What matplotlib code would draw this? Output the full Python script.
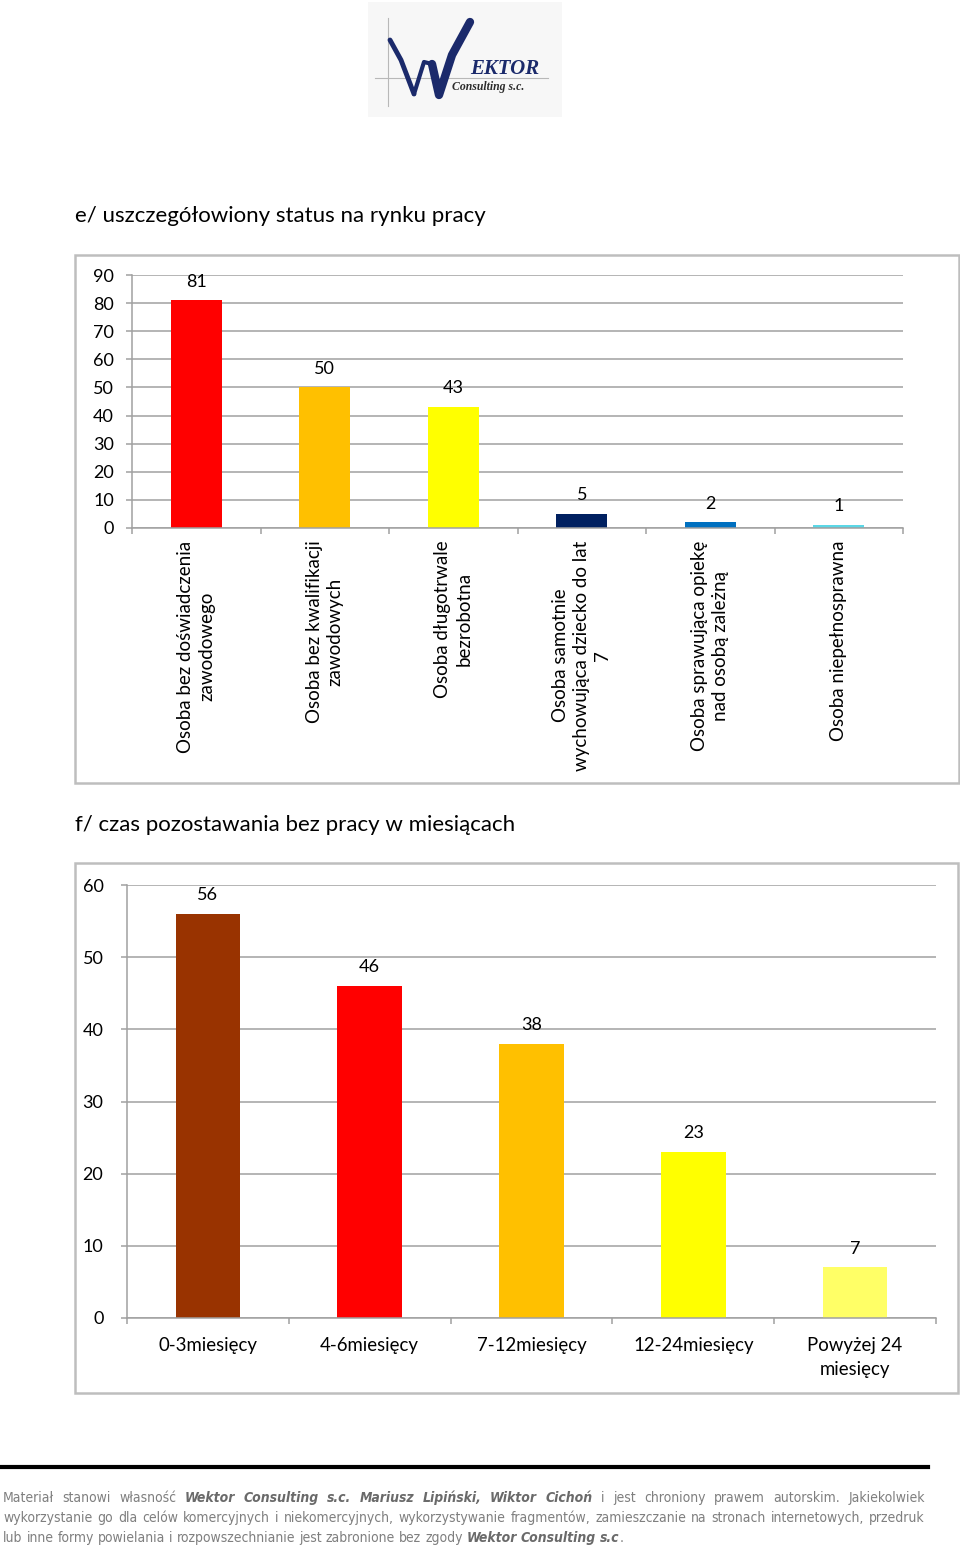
import matplotlib
matplotlib.use("Agg")
import matplotlib.pyplot as plt
from matplotlib.patches import Rectangle
from matplotlib.lines import Line2D

# ---------------- data ----------------
cats1 = ["Osoba bez doświadczenia\nzawodowego",
         "Osoba bez kwalifikacji\nzawodowych",
         "Osoba długotrwale\nbezrobotna",
         "Osoba samotnie\nwychowująca dziecko do lat\n7",
         "Osoba sprawująca opiekę\nnad osobą zależną",
         "Osoba niepełnosprawna"]
vals1 = [81, 50, 43, 5, 2, 1]
colors1 = ["#FF0000", "#FFC000", "#FFFF00", "#002060", "#0070C0", "#5BD7E6"]
yticks1 = [0, 10, 20, 30, 40, 50, 60, 70, 80, 90]

cats2 = ["0-3miesięcy", "4-6miesięcy", "7-12miesięcy", "12-24miesięcy",
         "Powyżej 24\nmiesięcy"]
vals2 = [56, 46, 38, 23, 7]
colors2 = ["#993300", "#FF0000", "#FFC000", "#FFFF00", "#FFFF66"]
yticks2 = [0, 10, 20, 30, 40, 50, 60]

title1 = "e/ uszczegółowiony status na rynku pracy"
title2 = "f/ czas pozostawania bez pracy w miesiącach"

FONT = ["Lato", "DejaVu Sans"]
plt.rcParams["font.family"] = FONT

W, H = 960, 1549
fig = plt.figure(figsize=(W / 100, H / 100), dpi=100)


def fx(px):
    return px / W


def fy(py):
    return 1 - py / H


def ax_rect(x0, y0, x1, y1):
    return [fx(x0), fy(y1), fx(x1) - fx(x0), fy(y0) - fy(y1)]


GRID = "#A0A0A0"
FRAME = "#BEBEBE"


def frame(x0, y0, x1, y1):
    fig.patches.append(Rectangle((fx(x0), fy(y1)), fx(x1) - fx(x0), fy(y0) - fy(y1),
                                 transform=fig.transFigure, fill=False,
                                 edgecolor=FRAME, linewidth=1.8))


def style_axes(ax, n, yt, ymax, fs_tick, pad_y):
    ax.set_xlim(0, n)
    ax.set_ylim(0, ymax)
    ax.set_yticks(yt)
    ax.yaxis.grid(True, color=GRID, linewidth=1.1)
    ax.set_axisbelow(True)
    for s in ["top", "right"]:
        ax.spines[s].set_visible(False)
    for s in ["left", "bottom"]:
        ax.spines[s].set_color(GRID)
        ax.spines[s].set_linewidth(1.1)
    ax.tick_params(axis="y", length=4, color=GRID, width=1.1, labelsize=fs_tick, pad=pad_y)
    ax.set_xticks([i + 0.5 for i in range(n)])
    ax.set_xticks(list(range(n + 1)), minor=True)
    ax.tick_params(axis="x", which="minor", length=4, color=GRID, width=1.1)
    ax.tick_params(axis="x", which="major", length=0)


# ---------------- chart 1 ----------------
frame(75, 255, 959, 783)
fig.text(fx(75), fy(216), title1, fontsize=16, va="center", ha="left")
ax1 = fig.add_axes(ax_rect(132, 275, 903, 528))
x1 = [i + 0.5 for i in range(len(vals1))]
ax1.bar(x1, vals1, width=0.4, color=colors1)
style_axes(ax1, len(vals1), yticks1, 90, 13, 9)
ax1.set_xticklabels(cats1, rotation=90, fontsize=13.5, va="top", ha="center",
                    multialignment="center", linespacing=1.3)
ax1.tick_params(axis="x", which="major", pad=9)
for xi, v in zip(x1, vals1):
    ax1.annotate(str(v), (xi, v), xytext=(0, 13.5), textcoords="offset points",
                 ha="center", va="center", fontsize=13)

# ---------------- chart 2 ----------------
frame(75, 863, 958, 1393)
fig.text(fx(75), fy(825), title2, fontsize=16, va="center", ha="left")
ax2 = fig.add_axes(ax_rect(127, 885, 936, 1318))
x2 = [i + 0.5 for i in range(len(vals2))]
ax2.bar(x2, vals2, width=0.4, color=colors2)
style_axes(ax2, len(vals2), yticks2, 60, 13, 13)
ax2.set_xticklabels(cats2, fontsize=13.4, linespacing=1.55, va="top")
ax2.tick_params(axis="x", which="major", pad=13.5)
for xi, v in zip(x2, vals2):
    ax2.annotate(str(v), (xi, v), xytext=(0, 13.5), textcoords="offset points",
                 ha="center", va="center", fontsize=13)

# ---------------- logo ----------------
NAVY = "#1B2A6B"
fig.patches.append(Rectangle((fx(368), fy(117)), fx(562) - fx(368), fy(2) - fy(117),
                             transform=fig.transFigure, facecolor="#F7F7F7",
                             edgecolor="none"))
fig.lines.append(Line2D([fx(375), fx(548)], [fy(78), fy(78)], transform=fig.transFigure,
                        color="#B8B8B8", linewidth=0.8))
fig.lines.append(Line2D([fx(388), fx(388)], [fy(18), fy(106)], transform=fig.transFigure,
                        color="#B8B8B8", linewidth=0.8))
# stylised "W" swoosh
fig.lines.append(Line2D([fx(390), fx(401), fx(414)], [fy(40), fy(60), fy(94)],
                        transform=fig.transFigure, color=NAVY, linewidth=3.5,
                        solid_capstyle="round"))
fig.lines.append(Line2D([fx(414), fx(424), fx(432)], [fy(94), fy(62), fy(64)],
                        transform=fig.transFigure, color=NAVY, linewidth=3,
                        solid_capstyle="round"))
fig.lines.append(Line2D([fx(432), fx(439), fx(452), fx(470)],
                        [fy(64), fy(95), fy(55), fy(22)],
                        transform=fig.transFigure, color=NAVY, linewidth=6,
                        solid_capstyle="round"))
fig.text(fx(470), fy(69), "EKTOR", fontsize=15, fontstyle="italic", fontweight="bold",
         family=["Liberation Serif"], color=NAVY, ha="left", va="center")
fig.text(fx(452), fy(87), "Consulting s.c.", fontsize=8.5, fontstyle="italic",
         fontweight="bold", family=["Liberation Serif"], color="#2B2B2B", ha="left",
         va="center")

# ---------------- footer ----------------
fig.lines.append(Line2D([0, fx(928)], [fy(1467), fy(1467)], transform=fig.transFigure,
                        color="black", linewidth=3))

FFONT = ["DejaVu Sans"]
FSTRETCH = "condensed"
FGRAY = "#7F7F7F"
BGRAY = "#6A6A6A"
footer_lines = [
    ([("Materiał stanowi własność", "n"),
      ("Wektor Consulting s.c. Mariusz Lipiński, Wiktor Cichoń", "b"),
      ("i jest chroniony prawem autorskim. Jakiekolwiek", "n")], True, 1498),
    ([("wykorzystanie go dla celów komercyjnych i niekomercyjnych, wykorzystywanie "
       "fragmentów, zamieszczanie na stronach internetowych, przedruk", "n")], True, 1518),
    ([("lub inne formy powielania i rozpowszechnianie jest zabronione bez zgody", "n"),
      ("Wektor Consulting s.c", "b")], False, 1538),
]

fig.canvas.draw()
renderer = fig.canvas.get_renderer()
fsize = [10.0]


def mk(s, st, x, y):
    kw = dict(fontsize=fsize[0], family=FFONT, stretch=FSTRETCH, color=FGRAY,
              ha="left", va="center")
    if st == "b":
        kw.update(fontweight="bold", fontstyle="italic", color=BGRAY)
    return fig.text(fx(x), fy(y), s, **kw)


def width(s, st):
    t = mk(s, st, 0, 0)
    w = t.get_window_extent(renderer).width
    t.remove()
    return w


# fit the font size so the longest line fits the reference width
natural = width(footer_lines[1][0][0][0], "n")
fsize[0] = fsize[0] * min(1.0, 918.0 / natural)

space = width("a a", "n") - width("aa", "n")
x_left, x_right = 3, 925
for li, (segs, justify, y) in enumerate(footer_lines):
    words = []
    for s, st in segs:
        for wd in s.split(" "):
            words.append((wd, st))
    if li == 2:
        words.append((".", "n"))
    widths = [width(wd, st) for wd, st in words]
    if justify:
        gap = (x_right - x_left - sum(widths)) / (len(words) - 1)
    else:
        gap = space
    x = x_left
    for i, ((wd, st), w) in enumerate(zip(words, widths)):
        mk(wd, st, x, y)
        x += w
        if not (li == 2 and i + 1 < len(words) and words[i + 1][0] == "."):
            x += gap

fig.savefig("out.png", dpi=100)
